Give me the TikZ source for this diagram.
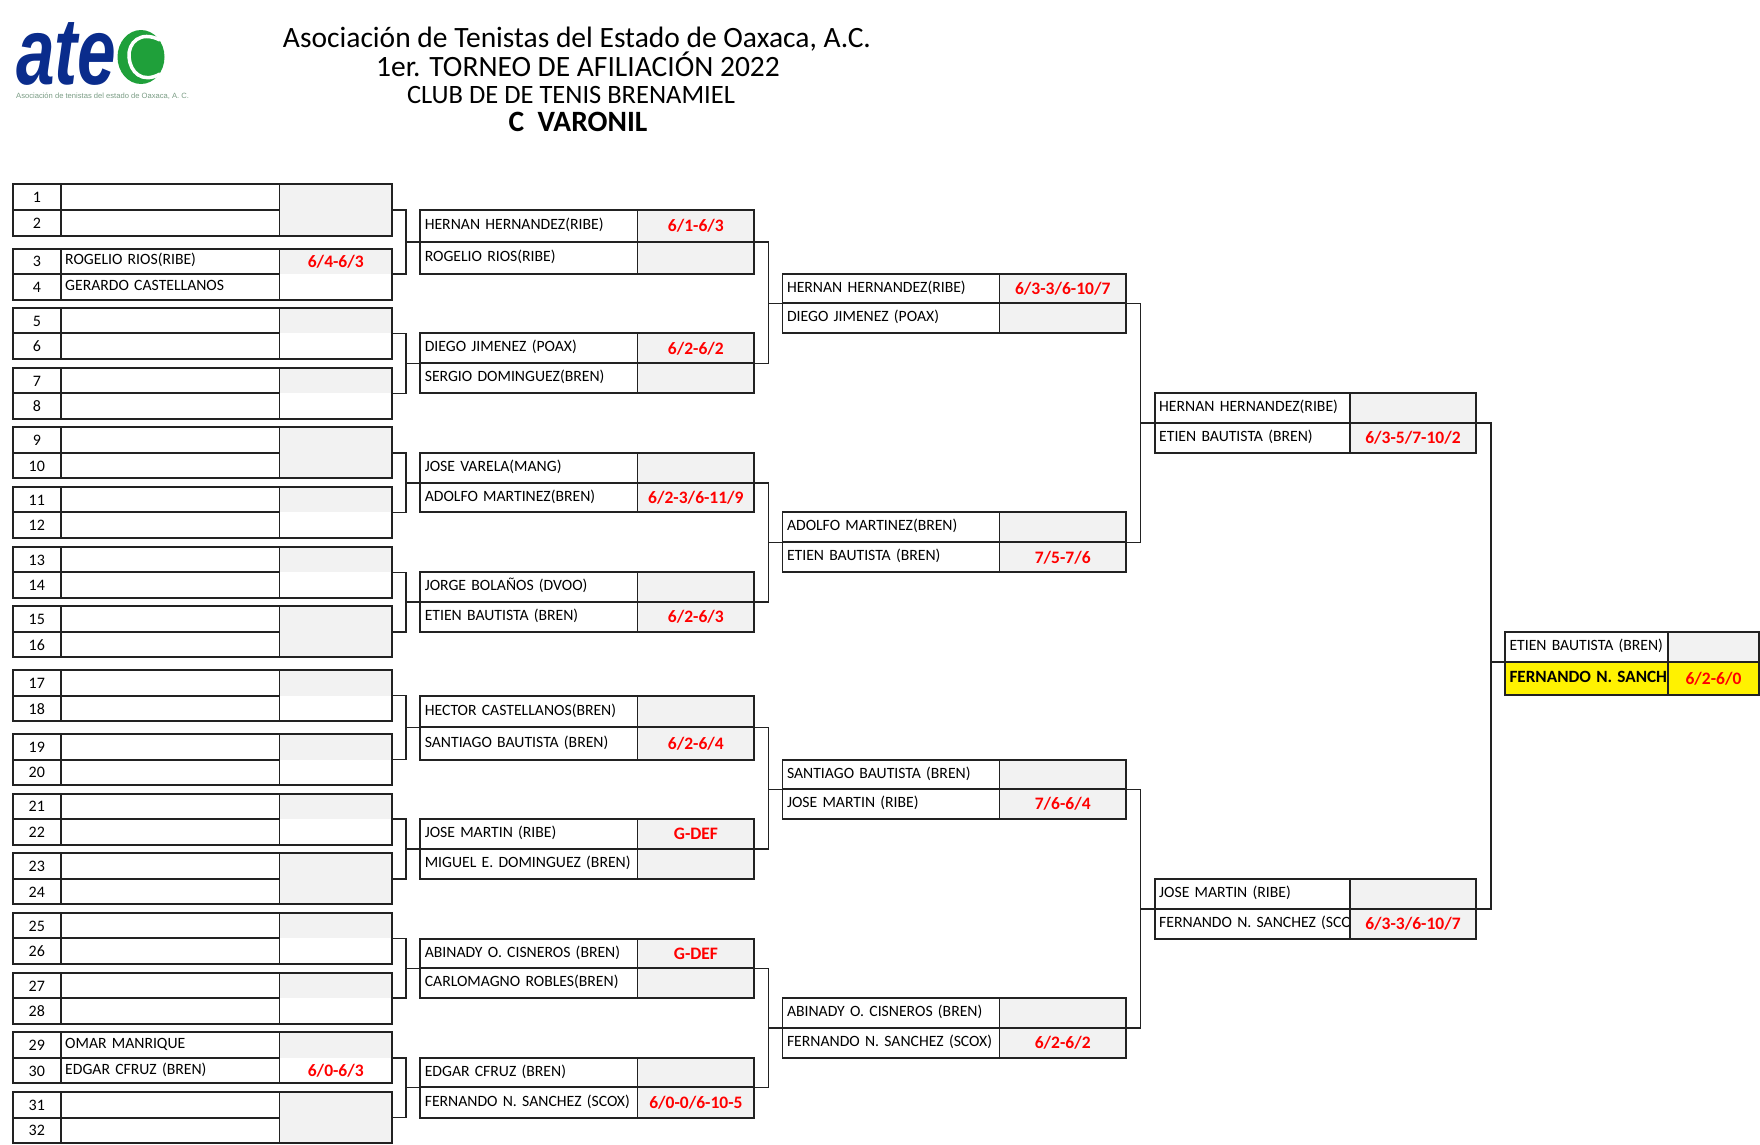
\documentclass[tikz,border=0pt]{standalone}
\usepackage{fontspec}
\setmainfont{Carlito}
\newfontfamily\logofont{Liberation Sans}
\usepackage{xcolor}
\usetikzlibrary{positioning,fit}

\definecolor{cellgray}{HTML}{F2F2F2}
\definecolor{rulegray}{HTML}{222222}
\definecolor{scorered}{HTML}{FF0000}
\definecolor{atecblue}{HTML}{0A2C8C}
\definecolor{atecgreen}{HTML}{1FA03A}
\definecolor{atecnote}{HTML}{7A9C84}

\tikzset{
    numcell/.style={rectangle, draw=rulegray, line width=1.7pt, anchor=north west, inner sep=0pt, outer sep=0pt,
        minimum width=47.7pt, text height=11pt, text depth=0pt, font=\fontsize{16}{18}\selectfont},
    namecell/.style={rectangle, draw=rulegray, line width=1.7pt, inner sep=0pt, inner xsep=4.5pt, outer sep=0pt,
        align=left, text height=11pt, text depth=4pt, font=\fontsize{15.7}{18}\selectfont},
    scorecell/.style={rectangle, fill=cellgray, inner sep=0pt, outer sep=0pt, text=scorered,
        text height=11.5pt, text depth=0pt, font=\fontsize{17.5}{19}\selectfont\bfseries},
    pairframe/.style={rectangle, draw=rulegray, line width=1.7pt, inner sep=0pt, outer sep=0pt},
    titleline/.style={inner sep=0pt, text height=19pt, text depth=0pt, font=\fontsize{29.5}{32}\selectfont},
    link/.style={draw=rulegray, line width=1.6pt},
}

\begin{document}
\begin{tikzpicture}[x=1pt, y=-1pt]
    \useasboundingbox (0,0) rectangle (1760,1144);

    % logo
    \node[anchor=base west, inner sep=0pt, xscale=.73, text=atecblue, text depth=0pt, font=\logofont\bfseries\itshape\fontsize{95}{95}\selectfont] (ate) at (16,84) {ate};
    \fill[atecgreen] (141,57) ellipse (23.5 and 27);
    \draw[white, line width=3.5pt] (160,40) .. controls (140,30) and (128,43) .. (129,57) .. controls (130,72) and (142,84) .. (160,74);
    \node[anchor=west, inner sep=0pt, text=atecnote, font=\logofont\fontsize{7.6}{9}\selectfont] (atenote) at (16,95.7) {Asociación de tenistas del estado de Oaxaca, A. C.};

    % title
    \node[titleline] (title1) at (577,38) {Asociación de Tenistas del Estado de Oaxaca, A.C.};
    \node[titleline] (title2) at (578,66.7) {1er. TORNEO DE AFILIACIÓN 2022};
    \node[titleline, text height=17pt, font=\fontsize{26.5}{29}\selectfont] (title3) at (571,95) {CLUB DE DE TENIS BRENAMIEL};
    \node[titleline, font=\fontsize{29.5}{32}\selectfont\bfseries] (title4) at (578,122) {C\ \ VARONIL};

    % first round rows
    \foreach \i/\ya/\yb/\tone/\pl/\sc in {
        1/184.3/210/cellgray/{}/{}, 2/210/235.7/cellgray/{}/{},
        3/248.7/274/cellgray/{ROGELIO RIOS(RIBE)}/{6/4-6/3}, 4/274/299.7/white/{GERARDO CASTELLANOS}/{},
        5/308.3/333.3/cellgray/{}/{}, 6/333.3/359/white/{}/{},
        7/368/393.3/cellgray/{}/{}, 8/393.3/418.7/white/{}/{},
        9/427.3/452.7/cellgray/{}/{}, 10/452.7/478.3/cellgray/{}/{},
        11/487/512.3/cellgray/{}/{}, 12/512.3/538/white/{}/{},
        13/547/572.3/cellgray/{}/{}, 14/572.3/597.7/white/{}/{},
        15/606.3/631.7/cellgray/{}/{}, 16/631.7/657.3/cellgray/{}/{},
        17/670/695.7/cellgray/{}/{}, 18/695.7/721.3/white/{}/{},
        19/734/759.7/cellgray/{}/{}, 20/759.7/785/white/{}/{},
        21/793.7/819/cellgray/{}/{}, 22/819/844.7/white/{}/{},
        23/853.3/878.7/cellgray/{}/{}, 24/878.7/904.3/cellgray/{}/{},
        25/913/938.3/cellgray/{}/{}, 26/938.3/964/white/{}/{},
        27/972.7/998.3/cellgray/{}/{}, 28/998.3/1023.7/white/{}/{},
        29/1032.3/1057.7/cellgray/{OMAR MANRIQUE}/{}, 30/1057.7/1083.3/white/{EDGAR CFRUZ (BREN)}/{6/0-6/3},
        31/1092.3/1117.7/cellgray/{}/{}, 32/1117.7/1143/cellgray/{}/{}} {
        \node[numcell, minimum height=\yb-\ya] (num\i) at (13,\ya) {\i};
        \node[namecell, text width=209.9pt, minimum height=\yb-\ya, right=0pt of num\i] (player\i) {\mbox{\pl}};
        \node[scorecell, fill=\tone, minimum width=112.4pt, minimum height=\yb-\ya, right=0pt of player\i] (res\i) {\sc};
    }

    % score column frame of each first round pair
    \foreach \k/\u/\v in {1/1/2, 2/3/4, 3/5/6, 4/7/8, 5/9/10, 6/11/12, 7/13/14, 8/15/16,
        9/17/18, 10/19/20, 11/21/22, 12/23/24, 13/25/26, 14/27/28, 15/29/30, 16/31/32} {
        \node[pairframe, fit=(res\u)(res\v)] (frame\k) {};
    }

    % matches
    \foreach \k/\xa/\wn/\ws/\ya/\ym/\yb/\na/\sa/\nb/\sb in {
        1/420.3/208.3/116.6/210/242/274/{HERNAN HERNANDEZ(RIBE)}/{6/1-6/3}/{ROGELIO RIOS(RIBE)}/{},
        2/420.3/208.3/116.6/333.3/363.3/393.3/{DIEGO JIMENEZ (POAX)}/{6/2-6/2}/{SERGIO DOMINGUEZ(BREN)}/{},
        3/420.3/208.3/116.6/452.7/482.7/512.3/{JOSE VARELA(MANG)}/{}/{ADOLFO MARTINEZ(BREN)}/{6/2-3/6-11/9},
        4/420.3/208.3/116.6/572.3/602/631.7/{JORGE BOLAÑOS (DVOO)}/{}/{ETIEN BAUTISTA (BREN)}/{6/2-6/3},
        5/420.3/208.3/116.6/695.7/727.3/759.7/{HECTOR CASTELLANOS(BREN)}/{}/{SANTIAGO BAUTISTA (BREN)}/{6/2-6/4},
        6/420.3/208.3/116.6/819/849/878.7/{JOSE MARTIN (RIBE)}/{G-DEF}/{MIGUEL E. DOMINGUEZ (BREN)}/{},
        7/420.3/208.3/116.6/938.7/968.3/998.3/{ABINADY O. CISNEROS (BREN)}/{G-DEF}/{CARLOMAGNO ROBLES(BREN)}/{},
        8/420.3/208.3/116.6/1057.7/1087.3/1117.7/{EDGAR CFRUZ (BREN)}/{}/{FERNANDO N. SANCHEZ (SCOX)}/{6/0-0/6-10-5},
        9/782.5/208/126.5/274/303.3/333.3/{HERNAN HERNANDEZ(RIBE)}/{6/3-3/6-10/7}/{DIEGO JIMENEZ (POAX)}/{},
        10/782.5/208/126.5/512.3/542.3/572.3/{ADOLFO MARTINEZ(BREN)}/{}/{ETIEN BAUTISTA (BREN)}/{7/5-7/6},
        11/782.5/208/126.5/759.7/789.3/819/{SANTIAGO BAUTISTA (BREN)}/{}/{JOSE MARTIN (RIBE)}/{7/6-6/4},
        12/782.5/208/126.5/998/1028/1058/{ABINADY O. CISNEROS (BREN)}/{}/{FERNANDO N. SANCHEZ (SCOX)}/{6/2-6/2},
        13/1154.7/186.3/126/393/423/452.7/{HERNAN HERNANDEZ(RIBE)}/{}/{ETIEN BAUTISTA (BREN)}/{6/3-5/7-10/2},
        14/1154.7/186.3/126/879/908.7/938.7/{JOSE MARTIN (RIBE)}/{}/{FERNANDO N. SANCHEZ (SCO}/{6/3-3/6-10/7}} {
        \node[namecell, anchor=north west, text width=\wn pt, minimum height=\ym-\ya] (upper\k) at (\xa,\ya) {\mbox{\na}};
        \node[namecell, text width=\wn pt, minimum height=\yb-\ym, below=0pt of upper\k] (lower\k) {\mbox{\nb}};
        \node[scorecell, draw=rulegray, line width=1.7pt, minimum width=\ws, minimum height=\ym-\ya, right=0pt of upper\k] (scoreup\k) {\sa};
        \node[scorecell, draw=rulegray, line width=1.7pt, minimum width=\ws, minimum height=\yb-\ym, right=0pt of lower\k] (scorelow\k) {\sb};
    }

    % final
    \node[namecell, anchor=north west, text width=154pt, minimum height=30pt] (upper15) at (1505,632) {\mbox{ETIEN BAUTISTA (BREN)}};
    \node[namecell, fill=yellow, text width=154pt, minimum height=33.3pt, below=0pt of upper15] (lower15) {\mbox{\fontsize{17.2}{19}\selectfont\bfseries FERNANDO N. SANCH}};
    \node[scorecell, draw=rulegray, line width=1.7pt, minimum width=91pt, minimum height=30pt, right=0pt of upper15] (scoreup15) {};
    \node[scorecell, draw=rulegray, line width=1.7pt, fill=yellow, minimum width=91pt, minimum height=33.3pt, right=0pt of lower15] (scorelow15) {6/2-6/0};

    % links first round to second round
    \foreach \u/\v/\w in {1/2/1, 3/4/2, 5/6/3, 7/8/4, 9/10/5, 11/12/6, 13/14/7, 15/16/8} {
        \path (upper\w.south west) ++(-14.2,0) coordinate (join\w);
        \draw[link] (frame\u.east) -| (join\w) |- (frame\v.east);
        \draw[link] (join\w) -- (upper\w.south west);
    }

    % links between later rounds
    \foreach \u/\v/\w in {1/2/9, 3/4/10, 5/6/11, 7/8/12, 9/10/13, 11/12/14, 13/14/15} {
        \path (upper\w.south west) ++(-14.2,0) coordinate (join\w);
        \draw[link] (scoreup\u.south east) -| (join\w) |- (scoreup\v.south east);
        \draw[link] (join\w) -- (upper\w.south west);
    }
\end{tikzpicture}
\end{document}
